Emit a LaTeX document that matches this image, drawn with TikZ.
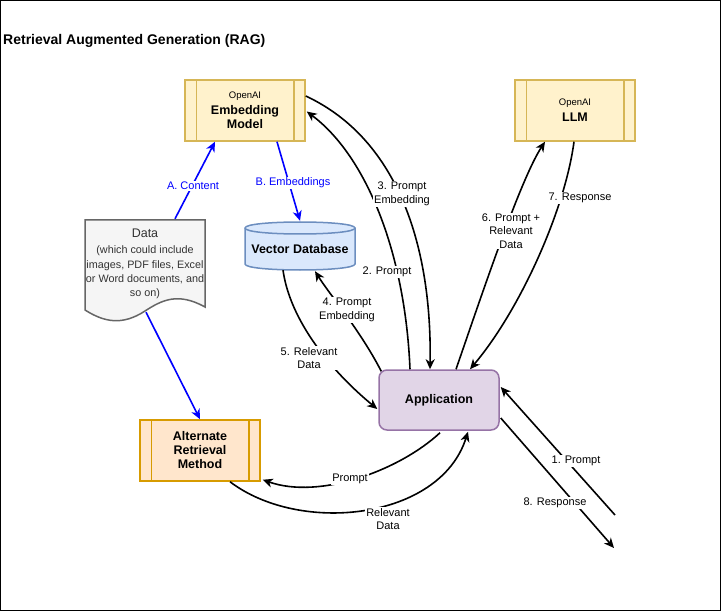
\documentclass[tikz,border=0pt]{standalone}
\usepackage{fontspec}
\setmainfont{Liberation Sans}
\usetikzlibrary{arrows.meta,calc}
\definecolor{yfill}{HTML}{FFF2CC}
\definecolor{ystroke}{HTML}{D6B656}
\definecolor{gfill}{HTML}{F5F5F5}
\definecolor{gstroke}{HTML}{666666}
\definecolor{gtext}{HTML}{333333}
\definecolor{bfill}{HTML}{DAE8FC}
\definecolor{bstroke}{HTML}{6C8EBF}
\definecolor{ofill}{HTML}{FFE6CC}
\definecolor{ostroke}{HTML}{D79B00}
\definecolor{pfill}{HTML}{E1D5E7}
\definecolor{pstroke}{HTML}{9673A6}
\definecolor{linkblue}{HTML}{0000FF}
\begin{document}
\begin{tikzpicture}[x=1pt,y=-1pt,
  box/.style={draw, line width=1.5pt, inner sep=0pt, align=center, minimum width=120pt, minimum height=61pt},
  ybox/.style={box, draw=ystroke, fill=yfill},
  obox/.style={box, draw=ostroke, fill=ofill},
  conn/.style={line width=1.6pt, -{Stealth[length=10pt,width=9pt,inset=3pt]}},
  bconn/.style={conn, draw=linkblue},
  lbl/.style={fill=white, inner sep=1pt, align=center, font=\fontsize{11}{13.5}\selectfont},
  blbl/.style={lbl, text=linkblue},
]
\useasboundingbox (0,0) rectangle (722,612);
\draw[line width=1pt] (0.5,0.5) rectangle (720.5,610.5);

\node[anchor=west, inner sep=0pt, font=\fontsize{14}{16}\selectfont\bfseries] (title) at (3,41) {Retrieval Augmented Generation (RAG)};

% Embedding model
\node[ybox, font=\fontsize{12.5}{14}\selectfont\bfseries] (emb) at (245,110.5) {{\fontsize{9.5}{11}\selectfont\mdseries OpenAI}\\[2pt]Embedding\\Model};
\draw[ystroke, line width=1.5pt] ($(emb.north west)+(12,0)$) -- ($(emb.south west)+(12,0)$);
\draw[ystroke, line width=1.5pt] ($(emb.north east)+(-12,0)$) -- ($(emb.south east)+(-12,0)$);

% LLM
\node[ybox, font=\fontsize{12.5}{14}\selectfont\bfseries] (llm) at (575,110.5) {{\fontsize{9.5}{11}\selectfont\mdseries OpenAI}\\[2pt]LLM};
\draw[ystroke, line width=1.5pt] ($(llm.north west)+(12,0)$) -- ($(llm.south west)+(12,0)$);
\draw[ystroke, line width=1.5pt] ($(llm.north east)+(-12,0)$) -- ($(llm.south east)+(-12,0)$);

% Alternate retrieval method
\node[obox, font=\fontsize{12.5}{14}\selectfont\bfseries] (alt) at (200,450.5) {Alternate\\Retrieval\\Method};
\draw[ostroke, line width=1.5pt] ($(alt.north west)+(12,0)$) -- ($(alt.south west)+(12,0)$);
\draw[ostroke, line width=1.5pt] ($(alt.north east)+(-12,0)$) -- ($(alt.south east)+(-12,0)$);

% Application
\node[draw=pstroke, fill=pfill, line width=1.5pt, rounded corners=8pt, minimum width=120pt, minimum height=60pt, inner sep=0pt, font=\fontsize{12.5}{14}\selectfont\bfseries] (app) at (439,400) {Application};

% Data document
\filldraw[draw=gstroke, fill=gfill, line width=1.5pt]
  (85,220) -- (205,220) -- (205,307)
  .. controls (178,292) and (162,300) .. (145,311)
  .. controls (122,326) and (104,322) .. (85,310) -- cycle;
\node[inner sep=0pt, minimum width=120pt, minimum height=92pt, align=center, text=gtext, font=\fontsize{10.8}{14.4}\selectfont] (data) at (145,264)
  {{\fontsize{12.5}{14}\selectfont Data}\\[2pt](which could include\\images, PDF files, Excel\\or Word documents, and\\so on)};

% Vector database cylinder
\filldraw[draw=bstroke, fill=bfill, line width=1.5pt]
  (245,228) -- (245,264) .. controls (245,272) and (355,272) .. (355,264) -- (355,228)
  .. controls (355,220) and (245,220) .. (245,228) -- cycle;
\draw[bstroke, line width=1.5pt] (245,228) .. controls (245,236) and (355,236) .. (355,228);
\node[inner sep=0pt, minimum width=110pt, minimum height=42pt, font=\fontsize{12.5}{14}\selectfont\bfseries] (vdb) at (300,249) {Vector Database};

% free ends
\coordinate (p1) at (615,515);
\coordinate (p8) at (614,548);

% blue connectors
\draw[bconn] ($(data.north)+(30,1)$) -- ($(emb.south)+(-30,0)$);
\draw[bconn] ($(emb.south)+(32,0)$) -- ($(vdb.north)+(0,-7)$);
\draw[bconn] ($(data.south)+(1,2)$) -- (alt.north);

% black connectors
\draw[conn] ($(emb.east)+(0,-14.5)$) .. controls (400,140) and (432,250) .. ($(app.north)+(-9,0)$);
\draw[conn] ($(app.north)+(-29,0)$) .. controls (405,250) and (365,155) .. ($(emb.east)+(1,1)$);
\draw[conn] ($(app.north west)+(3,2)$) .. controls (360,330) and (330,295) .. ($(vdb.south)+(15,1)$);
\draw[conn] ($(vdb.south)+(-17,0)$) .. controls (290,320) and (330,370) .. ($(app.west)+(-1,9)$);
\draw[conn] ($(app.north)+(17,0)$) .. controls (480,300) and (520,180) .. ($(llm.south)+(-30,0)$);
\draw[conn] ($(llm.south)+(-1,0)$) .. controls (565,210) and (520,310) .. ($(app.north)+(31,0)$);
\draw[conn] (p1) -- ($(app.east)+(1,-13)$);
\draw[conn] ($(app.east)+(1,18)$) -- (p8);
\draw[conn] ($(app.south)+(1,2)$) .. controls (400,470) and (320,500) .. ($(alt.south east)+(2,-2)$);
\draw[conn] ($(alt.south)+(30,0)$) .. controls (300,535) and (440,520) .. ($(app.south)+(29,1)$);

% labels
\node[blbl] (la) at (193,186) {A. Content};
\node[blbl] (lb) at (293,183) {B. Embeddings};
\node[lbl] (l3) at (402,194) {3. Prompt\\Embedding};
\node[lbl] (l2) at (387,272) {2. Prompt};
\node[lbl] (l4) at (347,310) {4. Prompt\\Embedding};
\node[lbl] (l5) at (309,358) {5. Relevant\\Data};
\node[lbl] (l6) at (511,231) {6. Prompt +\\Relevant\\Data};
\node[lbl] (l7) at (580,198) {7. Response};
\node[lbl] (l1) at (576,461) {1. Prompt};
\node[lbl] (l8) at (555,503) {8. Response};
\node[lbl] (lp) at (350,479) {Prompt};
\node[lbl] (lr) at (388,519) {Relevant\\Data};
\end{tikzpicture}
\end{document}
